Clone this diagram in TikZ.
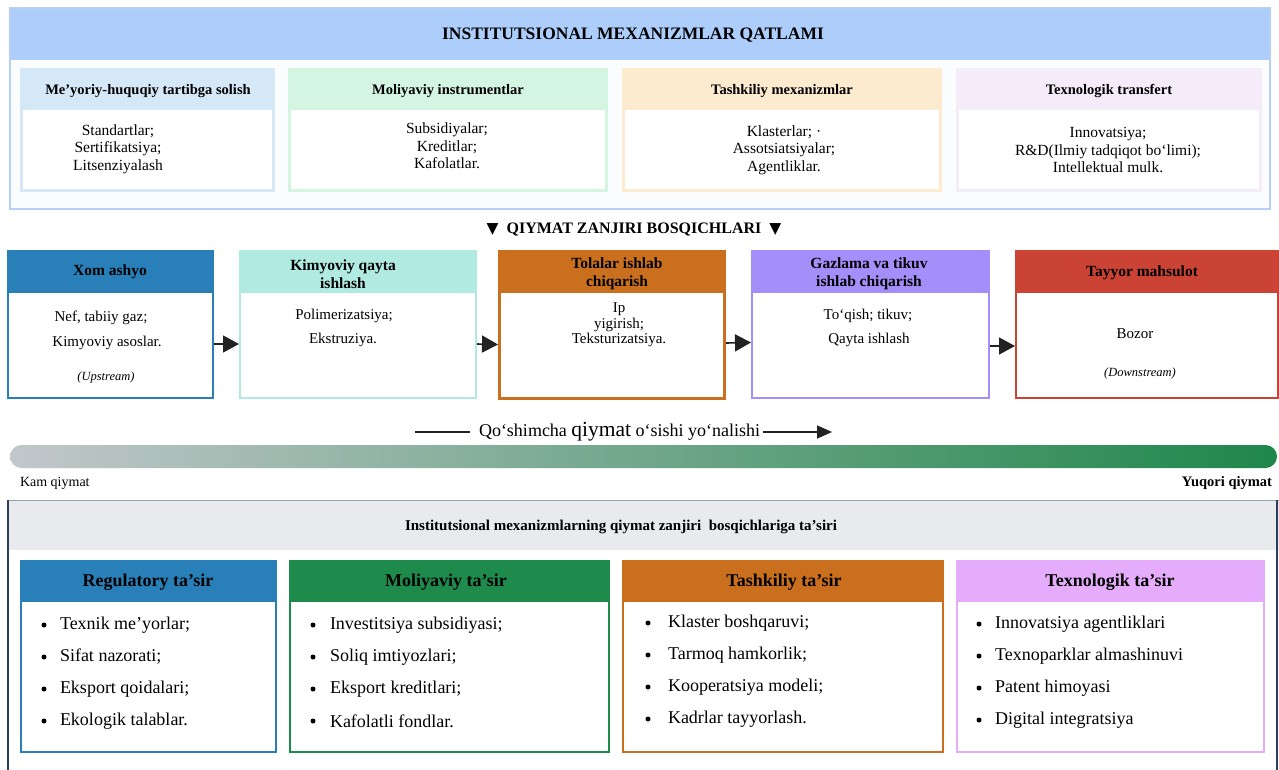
\documentclass[tikz,border=0pt]{standalone}
\usepackage{fontspec}
\setmainfont{Liberation Serif}
\newfontfamily\symfont{DejaVu Sans}
\usetikzlibrary{arrows.meta,calc}
\definecolor{topblue}{RGB}{173,205,251}
\definecolor{topbord}{RGB}{180,208,248}
\definecolor{topbody}{RGB}{251,252,254}
\definecolor{cA}{RGB}{213,232,248}
\definecolor{cB}{RGB}{213,245,227}
\definecolor{cC}{RGB}{253,235,208}
\definecolor{cD}{RGB}{244,236,249}
\definecolor{sblue}{RGB}{41,128,185}
\definecolor{steal}{RGB}{176,234,224}
\definecolor{sorange}{RGB}{202,111,30}
\definecolor{spurple}{RGB}{163,142,250}
\definecolor{sred}{RGB}{203,67,53}
\definecolor{sgreen}{RGB}{30,138,76}
\definecolor{slilac}{RGB}{228,172,250}
\definecolor{graybar}{RGB}{194,199,203}
\definecolor{greenbar}{RGB}{31,135,74}
\definecolor{hdrgray}{RGB}{232,234,237}
\definecolor{navy}{RGB}{44,62,90}
\definecolor{botline}{RGB}{150,162,180}
\definecolor{arrowc}{RGB}{34,34,34}
\begin{document}
\begin{tikzpicture}[x=1pt,y=-1pt,
  txt/.style={inner sep=0pt, outer sep=0pt},
  title/.style={txt, font=\fontsize{17.5}{20}\selectfont\bfseries},
  subhead/.style={txt, font=\fontsize{14.5}{17}\selectfont\bfseries},
  subbody/.style={txt, font=\fontsize{15.5}{17.5}\selectfont, align=center},
  mech/.style={fill=#1, anchor=north west, minimum height=124pt, inner sep=0pt, outer sep=0pt},
  stage/.style={draw=#1, line width=2pt, fill=white, anchor=north west, minimum height=147pt, inner sep=0pt},
  sthead/.style={txt, font=\fontsize{15.5}{18}\selectfont\bfseries, align=center},
  stbody/.style={txt, font=\fontsize{15}{17}\selectfont, align=center},
  stnote/.style={txt, font=\fontsize{12.5}{14}\selectfont\itshape},
  arr/.style={line width=1.6pt, draw=arrowc, -{Triangle[length=16pt,width=17pt]}},
  imp/.style={draw=#1, line width=2pt, fill=white, anchor=north west, minimum height=191pt, inner sep=0pt},
  ihead/.style={txt, font=\fontsize{18}{21}\selectfont\bfseries},
  item/.style={txt, font=\fontsize{18}{21}\selectfont, anchor=west},
  dot/.style={circle, fill=black, minimum size=5pt, inner sep=0pt}
]
\useasboundingbox (0,0) rectangle (1279,769);
\clip (0,0) rectangle (1279,769);
\fill[white] (0,0) rectangle (1279,769);

% ---------------- top layer ----------------
\node[fill=topbody, anchor=north west, minimum width=1260pt, minimum height=201pt, inner sep=0pt, outer sep=0pt] (topbox) at (10,8) {};
\fill[topblue] (topbox.north west) rectangle ([yshift=-52pt]topbox.north east);
\draw[topbord, line width=1.5pt] (topbox.north west) rectangle (topbox.south east);
\node[title] (ttl) at (633,35) {INSTITUTSIONAL MEXANIZMLAR QATLAMI};

\node[mech=cA, minimum width=255pt] (m1) at (20,68) {};
\node[mech=cB, minimum width=320pt] (m2) at (288,68) {};
\node[mech=cC, minimum width=320pt] (m3) at (622,68) {};
\node[mech=cD, minimum width=306pt] (m4) at (956,68) {};
\foreach \m in {m1,m2,m3,m4}{
  \fill[white] ([xshift=3pt,yshift=-42pt]\m.north west) rectangle ([xshift=-3pt,yshift=3pt]\m.south east);
}
\node[subhead] (m1h) at (148,91) {Me’yoriy-huquqiy tartibga solish};
\node[subhead] (m2h) at (448,91) {Moliyaviy instrumentlar};
\node[subhead] (m3h) at (782,91) {Tashkiliy mexanizmlar};
\node[subhead] (m4h) at (1109,91) {Texnologik transfert};
\node[subbody] (m1b) at (118,149) {Standartlar;\\Sertifikatsiya;\\Litsenziyalash};
\node[subbody] (m2b) at (447,146) {Subsidiyalar;\\Kreditlar;\\Kafolatlar.};
\node[subbody] (m3b) at (784,150) {Klasterlar; ·\\Assotsiatsiyalar;\\Agentliklar.};
\node[subbody] (m4b) at (1108,150) {Innovatsiya;\\R\&D(Ilmiy tadqiqot bo‘limi);\\Intellektual mulk.};

% ---------------- value chain ----------------
\node[txt, font=\fontsize{16}{19}\selectfont\bfseries] (vct) at (634,229) {{\symfont\fontsize{15.5}{17}\selectfont ▼}\ \ QIYMAT ZANJIRI BOSQICHLARI\ \ {\symfont\fontsize{15.5}{17}\selectfont ▼}};

\node[stage=sblue, minimum width=205pt] (sA) at (7,250) {};
\node[stage=steal, minimum width=236pt] (sB) at (239,250) {};
\node[stage=sorange, line width=3pt, minimum width=225pt] (sC) at (498,250) {};
\node[stage=spurple, minimum width=237pt] (sD) at (751,250) {};
\node[stage=sred, minimum width=262pt] (sE) at (1015,250) {};
\fill[sblue] (sA.north west) rectangle ([yshift=-43pt]sA.north east);
\fill[steal] (sB.north west) rectangle ([yshift=-43pt]sB.north east);
\fill[sorange] (sC.north west) rectangle ([yshift=-43pt]sC.north east);
\fill[spurple] (sD.north west) rectangle ([yshift=-43pt]sD.north east);
\fill[sred] (sE.north west) rectangle ([yshift=-43pt]sE.north east);

\node[sthead] (sAh) at (110,272) {Xom ashyo};
\node[sthead] (sBh) at (343,274) {Kimyoviy qayta\\ishlash};
\node[sthead] (sCh) at (617,274) {Tolalar ishlab\\chiqarish};
\node[sthead] (sDh) at (869,274) {Gazlama va tikuv\\ishlab chiqarish};
\node[sthead] (sEh) at (1142,273) {Tayyor mahsulot};

\node[stbody] (sAb1) at (101,318) {Nef, tabiiy gaz;};
\node[stbody] (sAb2) at (107,343) {Kimyoviy asoslar.};
\node[stnote] (sAn) at (106,377) {(Upstream)};
\node[stbody] (sBb1) at (344,316) {Polimerizatsiya;};
\node[stbody] (sBb2) at (343,340) {Ekstruziya.};
\node[txt, font=\fontsize{15}{15.5}\selectfont, align=center] (sCb) at (619,325) {Ip\\yigirish;\\Teksturizatsiya.};
\node[stbody] (sDb1) at (868,316) {To‘qish; tikuv;};
\node[stbody] (sDb2) at (869,340) {Qayta ishlash};
\node[stbody] (sEb1) at (1135,334) {Bozor};
\node[stnote] (sEn) at (1140,373) {(Downstream)};

\draw[arr] ([yshift=-19.5pt]sA.east) -- ([yshift=-19.5pt]sB.west);
\draw[arr] ([yshift=-19.5pt]sB.east) -- ([yshift=-19.5pt]sC.west);
\draw[arr] ([yshift=-18pt]sC.east) -- ([yshift=-18pt]sD.west);
\draw[arr] ([yshift=-21.5pt]sD.east) -- ([yshift=-21.5pt]sE.west);

% ---------------- value gradient ----------------
\coordinate (gl1) at (415,432);
\coordinate (gl2) at (470,432);
\coordinate (gr1) at (763,432);
\coordinate (gr2) at (832,432);
\draw[line width=1.6pt, arrowc] (gl1) -- (gl2);
\node[txt, anchor=west, font=\fontsize{18}{21}\selectfont] (glab) at (479,432) {Qo‘shimcha {\fontsize{21.5}{24}\selectfont qiymat} o‘sishi yo‘nalishi};
\draw[line width=1.6pt, arrowc, -{Triangle[length=15pt,width=13pt]}] (gr1) -- (gr2);
\shade[left color=graybar, right color=greenbar, rounded corners=11.5pt] (10,445) rectangle (1277,468);
\node[txt, anchor=west, font=\fontsize{14}{16}\selectfont] (kam) at (20,483) {Kam qiymat};
\node[txt, anchor=east, font=\fontsize{14.5}{16}\selectfont\bfseries] (yuq) at (1272,483) {Yuqori qiymat};

% ---------------- impact section ----------------
\node[fill=white, anchor=north west, minimum width=1272pt, minimum height=290pt, inner sep=0pt, outer sep=0pt] (bot) at (7,500) {};
\fill[hdrgray] (bot.north west) rectangle ([yshift=-50pt]bot.north east);
\draw[botline, line width=1pt] (bot.north west) -- (bot.north east);
\draw[navy, line width=2pt] ([xshift=1pt]bot.north west) -- ([xshift=1pt]bot.south west);
\draw[navy, line width=2pt] ([xshift=-2pt]bot.north east) -- ([xshift=-2pt]bot.south east);
\node[txt, font=\fontsize{15}{18}\selectfont\bfseries] (bt) at (621,527) {Institutsional mexanizmlarning qiymat zanjiri\ \ bosqichlariga ta’siri};

\node[imp=sblue, minimum width=255pt] (i1) at (20,560) {};
\node[imp=sgreen, minimum width=319pt] (i2) at (289,560) {};
\node[imp=sorange, minimum width=320pt] (i3) at (622,560) {};
\node[imp=slilac, minimum width=307pt] (i4) at (956,560) {};
\fill[sblue] (i1.north west) rectangle ([yshift=-42pt]i1.north east);
\fill[sgreen] (i2.north west) rectangle ([yshift=-42pt]i2.north east);
\fill[sorange] (i3.north west) rectangle ([yshift=-42pt]i3.north east);
\fill[slilac] (i4.north west) rectangle ([yshift=-42pt]i4.north east);
\node[ihead] (i1h) at (148,582) {Regulatory ta’sir};
\node[ihead] (i2h) at (446,582) {Moliyaviy ta’sir};
\node[ihead] (i3h) at (784,582) {Tashkiliy ta’sir};
\node[ihead] (i4h) at (1110,582) {Texnologik ta’sir};

\foreach \t [count=\k] in {{Texnik me’yorlar;},{Sifat nazorati;},{Eksport qoidalari;},{Ekologik talablar.}}{
  \node[dot] (i1d\k) at (44,{593+32*\k}) {};
  \node[item] (i1t\k) at (60,{593+32*\k}) {\t};
}
\foreach \t [count=\k] in {{Investitsiya subsidiyasi;},{Soliq imtiyozlari;},{Eksport kreditlari;},{Kafolatli fondlar.}}{
  \node[dot] (i2d\k) at (313,{593+32*\k}) {};
  \node[item] (i2t\k) at (330,{593+32*\k}) {\t};
}
\foreach \t [count=\k] in {{Klaster boshqaruvi;},{Tarmoq hamkorlik;},{Kooperatsiya modeli;},{Kadrlar tayyorlash.}}{
  \node[dot] (i3d\k) at (648,{591+32*\k}) {};
  \node[item] (i3t\k) at (668,{591+32*\k}) {\t};
}
\foreach \t [count=\k] in {{Innovatsiya agentliklari},{Texnoparklar almashinuvi},{Patent himoyasi},{Digital integratsiya}}{
  \node[dot] (i4d\k) at (979,{592+32*\k}) {};
  \node[item] (i4t\k) at (995,{592+32*\k}) {\t};
}
\end{tikzpicture}
\end{document}
